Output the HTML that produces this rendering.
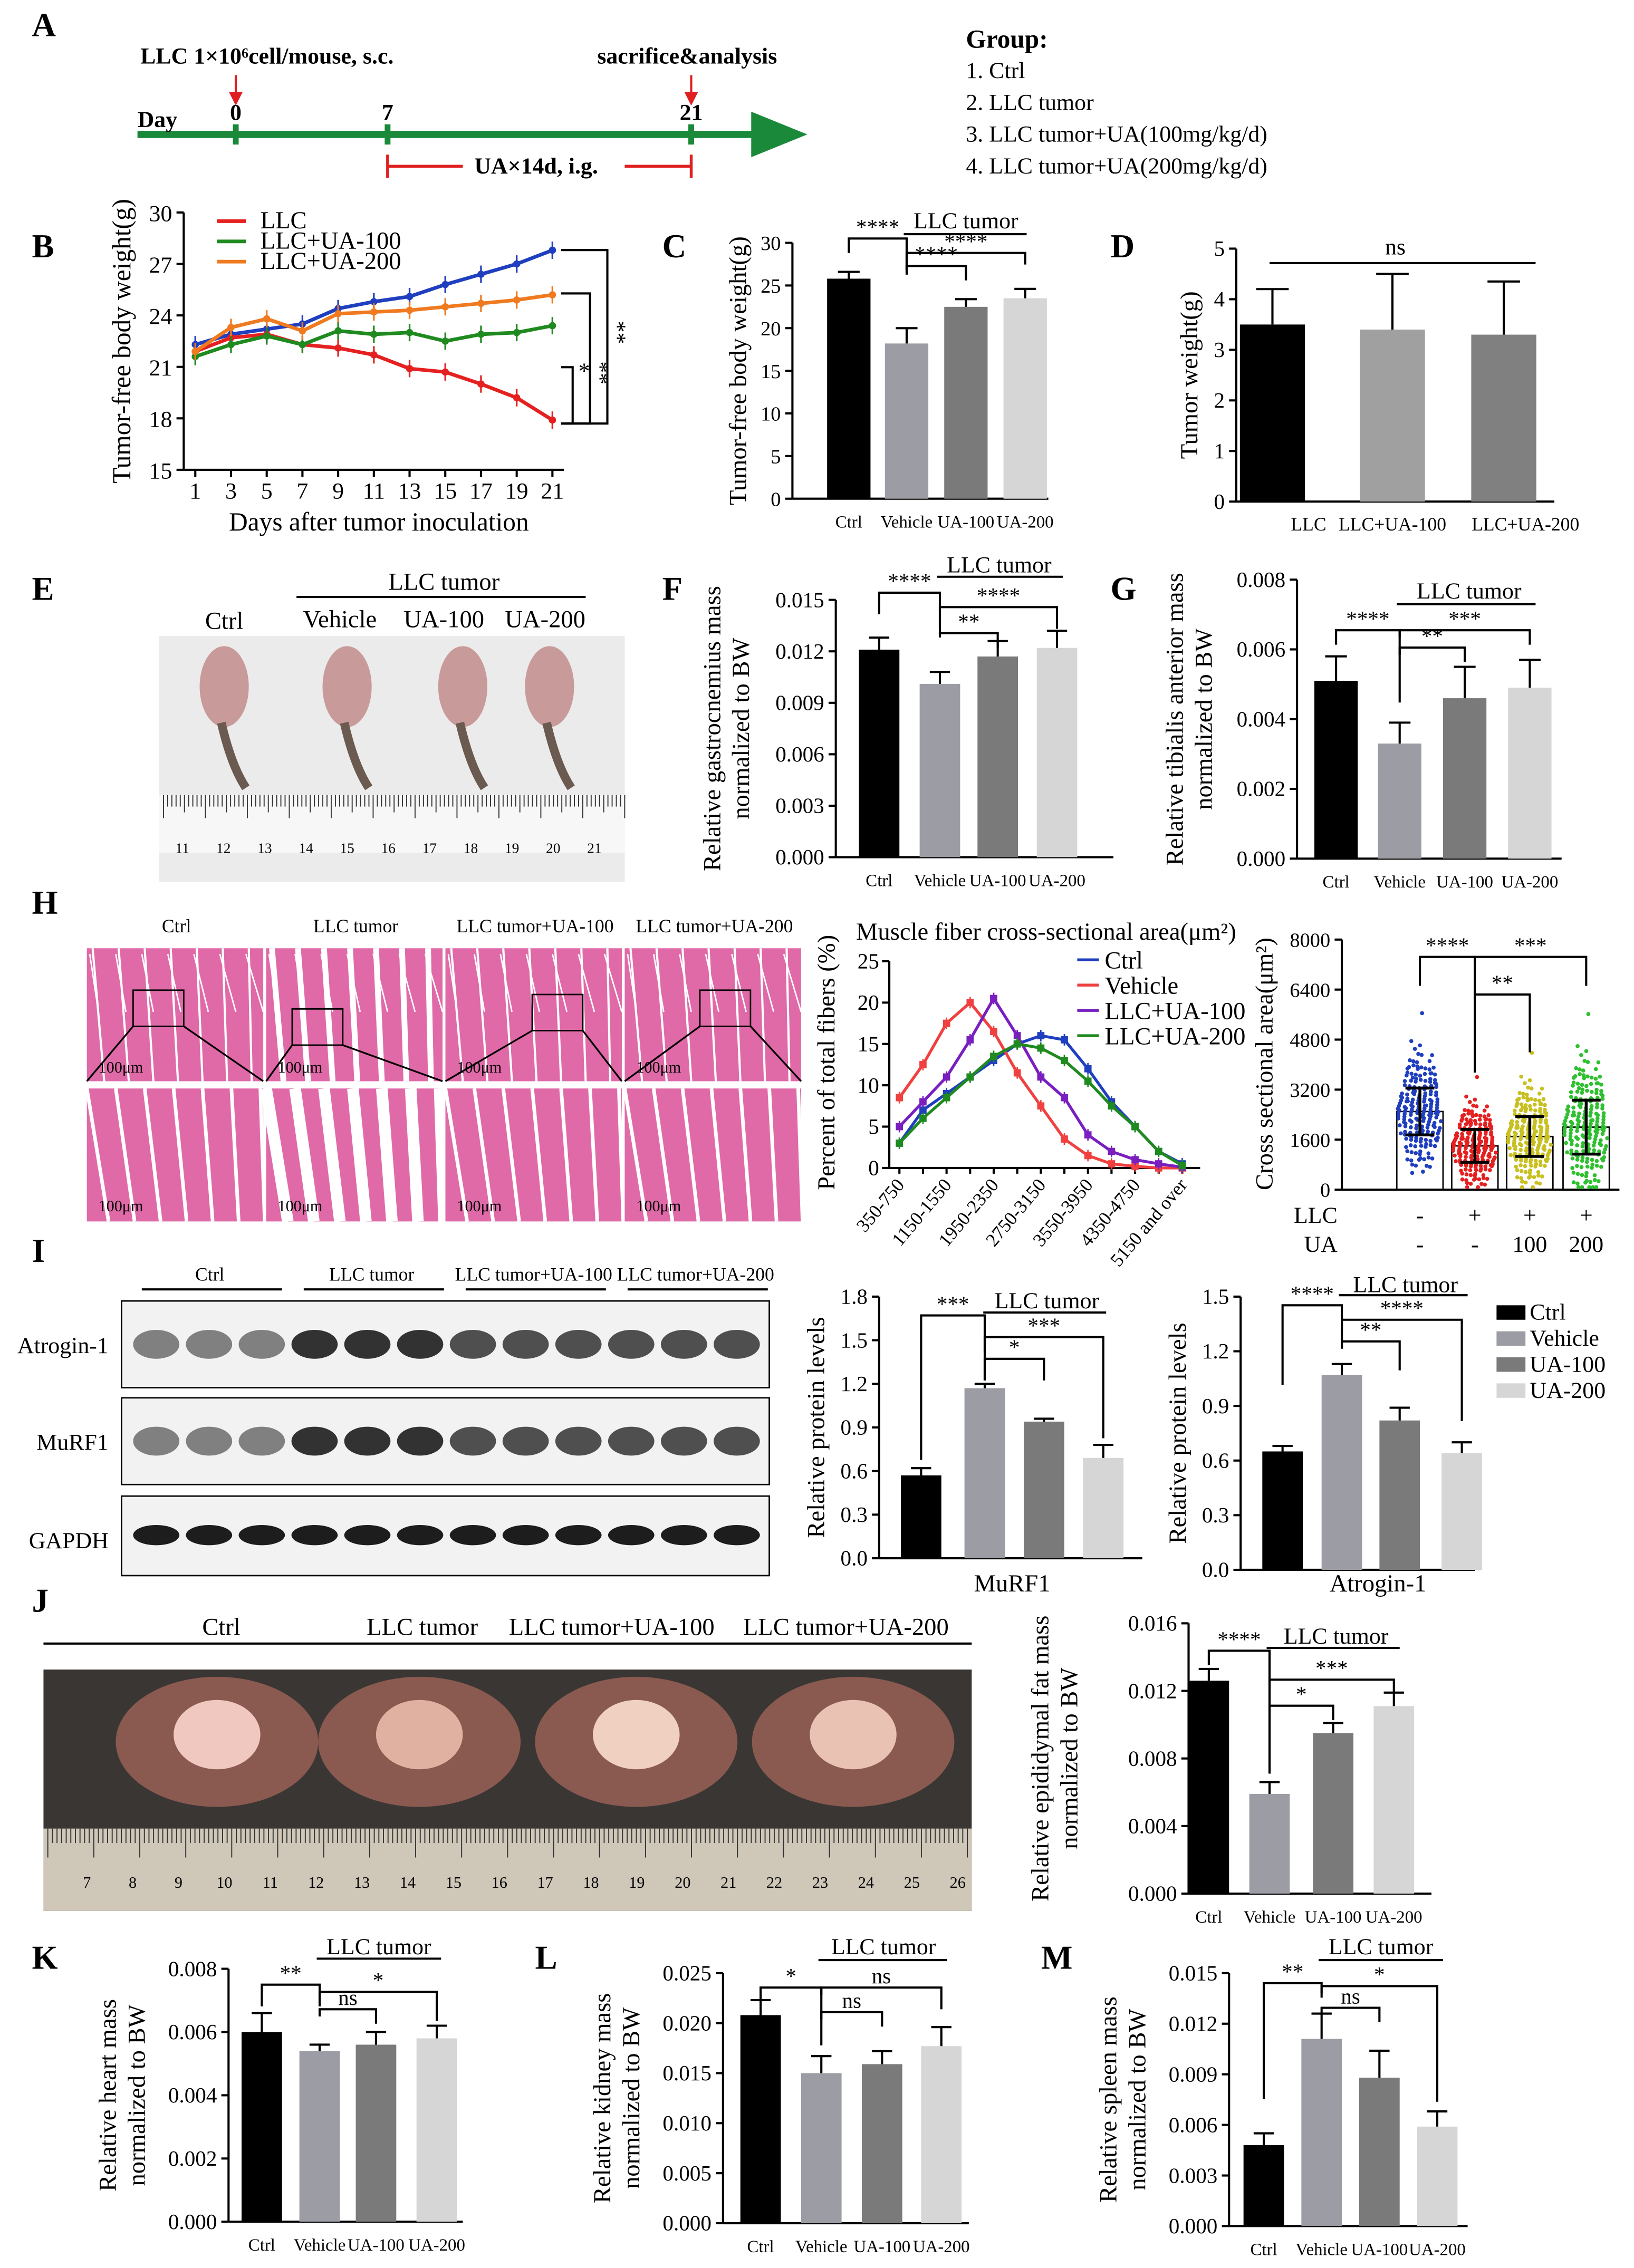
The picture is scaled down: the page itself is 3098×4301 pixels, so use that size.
<!DOCTYPE html>
<html><head><meta charset="utf-8">
<style>
html,body{margin:0;padding:0;background:#fff}
svg{display:block;font-family:"Liberation Serif",serif}
</style></head>
<body>
<svg id="fig" xmlns="http://www.w3.org/2000/svg" width="3098" height="4301" viewBox="0 0 1130 1569">
<rect x="0" y="0" width="1130" height="1569" fill="#fff"/>
</svg>
<script>
// ---------- DATA ----------
const bDays=[1,3,5,7,9,11,13,15,17,19,21];
const bCtrl=[22.3,22.9,23.2,23.5,24.4,24.8,25.1,25.8,26.4,27.0,27.8];
const bLLC=[21.9,22.7,22.9,22.3,22.1,21.7,20.9,20.7,20.0,19.2,17.9];
const bUA100=[21.6,22.3,22.8,22.3,23.1,22.9,23.0,22.5,22.9,23.0,23.4];
const bUA200=[21.9,23.3,23.8,23.1,24.1,24.2,24.3,24.5,24.7,24.9,25.2];
const bTicks=[15,18,21,24,27,30];
const grp4=["Ctrl","Vehicle","UA-100","UA-200"];
const cVals=[25.8,18.2,22.5,23.5], cErr=[0.8,1.8,0.9,1.1];
const dCats=["LLC","LLC+UA-100","LLC+UA-200"], dVals=[3.5,3.4,3.3], dErr=[0.7,1.1,1.05];
const fVals=[0.0121,0.0101,0.0117,0.0122], fErr=[0.0007,0.0007,0.0009,0.0010];
const gVals=[0.0051,0.0033,0.0046,0.0049], gErr=[0.0007,0.0006,0.0009,0.0008];
const hCats=["350-750","750-1150","1150-1550","1550-1950","1950-2350","2350-2750","2750-3150","3150-3550","3550-3950","3950-4350","4350-4750","4750-5150","5150 and over"];
const hCtrl=[3,7,9,11,13,15,16,15.5,12,8,5,2,0.5];
const hVeh=[8.5,12.5,17.5,20,16.5,11.5,7.5,3.5,1.5,0.5,0.2,0,0];
const hUA100=[5,8,11,15.5,20.5,16,11,8.5,4,2,1,0.5,0.1];
const hUA200=[3,6,8.5,11,13.5,15,14.5,13,10.5,7.5,5,2,0.3];
const csaMean=[2500,1400,1700,2000], csaSD=[1000,700,850,1150];
const murf=[0.57,1.17,0.94,0.69], murfErr=[0.05,0.03,0.02,0.09];
const atro=[0.65,1.07,0.82,0.64], atroErr=[0.03,0.06,0.07,0.06];
const jVals=[0.0126,0.0059,0.0095,0.0111], jErr=[0.0007,0.0007,0.0006,0.0008];
const kVals=[0.0060,0.0054,0.0056,0.0058], kErr=[0.0006,0.0002,0.0004,0.0004];
const lVals=[0.0208,0.0150,0.0159,0.0177], lErr=[0.0015,0.0017,0.0013,0.0019];
const mVals=[0.0048,0.0111,0.0088,0.0059], mErr=[0.0007,0.0015,0.0016,0.0009];

// ---------- HELPERS ----------
const S=document.getElementById('fig'), NS='http://www.w3.org/2000/svg';
function mk(tag,attrs,name){const el=document.createElementNS(NS,tag);for(const k in attrs)el.setAttribute(k,attrs[k]);


S.appendChild(el);return el;}
function T(x,y,s,sz,name,o){o=o||{};const el=mk('text',{x:x,y:y,'font-size':sz,'text-anchor':o.a||'start',fill:o.c||'#000','font-weight':o.b?'bold':'normal',transform:o.r?`rotate(${o.r} ${x} ${y})`:''},name);el.textContent=s;return el;}
function L(x1,y1,x2,y2,name,c,w){return mk('line',{x1,y1,x2,y2,stroke:c||'#000','stroke-width':w||1.5},name);}
function R(x,y,w,h,f,name){return mk('rect',{x,y,width:w,height:h,fill:f},name);}
function P(d,name,c,w,f){return mk('path',{d,stroke:c||'#000','stroke-width':w||1.5,fill:f||'none'},name);}
const COL=['#000','#9c9ca4','#7a7a7a','#d6d6d6'];
function yAxis(x,top,bot,max,ticks,fmt,sz,name){const ys=v=>bot-(v/max)*(bot-top);L(x,top,x,bot,name+'-y-axis');
ticks.forEach(t=>{const y=ys(t);L(x-5,y,x,y,name+'-y-tick');T(x-8,y+5,fmt(t),sz,name+'-y-tick-label',{a:'end'});});return ys;}
function bars(cfg,vals,errs){const ys=yAxis(cfg.x,cfg.top,cfg.bot,cfg.max,cfg.ticks,cfg.fmt,cfg.sz||15,cfg.name);
L(cfg.x,cfg.bot,cfg.xe,cfg.bot,cfg.name+'-x-axis');
vals.forEach((v,i)=>{const cx=cfg.cx[i],w=cfg.w,y=ys(v);R(cx-w/2,y,w,cfg.bot-y,cfg.cols[i],cfg.name+'-bar-'+i);
const ye=ys(v+errs[i]);L(cx,y,cx,ye,cfg.name+'-error-bar');L(cx-w/4,ye,cx+w/4,ye,cfg.name+'-error-cap');
if(cfg.labels)T(cfg.lx?cfg.lx[i]:cx,cfg.bot+20,cfg.labels[i],cfg.lsz||12,cfg.name+'-x-label',{a:'middle'});});
if(cfg.title){cfg.title.forEach((t,j)=>T(cfg.tx+j*20,(cfg.top+cfg.bot)/2,t,cfg.tsz||17,cfg.name+'-y-title',{a:'middle',r:-90}));}
return ys;}
function brk(x1,x2,y,drop1,drop2,lab,name){P(`M${x1},${y+drop1}V${y}H${x2}V${y+drop2}`,name+'-sig-bracket');T((x1+x2)/2,y-3,lab,15,name+'-sig-label',{a:'middle'});}
const f0=t=>String(t), f3=t=>t.toFixed(3), f1=t=>t.toFixed(1);

// ---------- PANEL LETTERS ----------
[['A',22,25],['B',22,178],['C',458,178],['D',768,178],['E',22,415],['F',458,415],['G',768,415],['H',22,632],['I',22,873],['J',22,1115],['K',22,1362],['L',370,1362],['M',720,1362]].forEach(p=>T(p[1],p[2],p[0],23,'panel-letter-'+p[0],{b:1}));

// ---------- A timeline ----------
L(95,93,525,93,'timeline-line','#1a8a3a',5);
P('M520,78 L557,93 L520,108 Z','timeline-arrowhead','#1a8a3a',1,'#1a8a3a');
[163,268,478].forEach(x=>L(x,86,x,100,'timeline-tick','#1a8a3a',4));
T(97,44,'LLC 1×10⁶cell/mouse, s.c.',16,'inoculation-label',{b:1});
T(95,88,'Day',16,'day-label',{b:1});
T(163,83,'0',16,'day-0',{b:1,a:'middle'});T(268,83,'7',16,'day-7',{b:1,a:'middle'});T(478,83,'21',16,'day-21',{b:1,a:'middle'});
T(413,44,'sacrifice&analysis',16,'sacrifice-label',{b:1});
[163,478].forEach(x=>{L(x,52,x,66,'red-arrow','#e02020',1.5);P(`M${x-4},64 L${x},72 L${x+4},64Z`,'red-arrowhead','#e02020',1,'#e02020');});
L(268,115,320,115,'treatment-bracket','#e02020',2);L(432,115,478,115,'treatment-bracket','#e02020',2);
L(268,107,268,123,'treatment-bracket','#e02020',2);L(478,107,478,123,'treatment-bracket','#e02020',2);
T(328,120,'UA×14d, i.g.',16,'treatment-label',{b:1});
T(668,33,'Group:',18,'group-title',{b:1});
['1. Ctrl','2. LLC tumor','3. LLC tumor+UA(100mg/kg/d)','4. LLC tumor+UA(200mg/kg/d)'].forEach((s,i)=>T(668,54+i*22,s,16,'group-item'));

// ---------- B line chart ----------
(function(){const x0=127,top=147,bot=325,bx=d=>135+(d-1)/20*(382-135),by=v=>bot-(v-15)/15*(bot-top);
L(x0,top,x0,bot,'b-y-axis');L(x0,bot,390,bot,'b-x-axis');
bTicks.forEach(t=>{L(x0-5,by(t),x0,by(t),'b-y-tick');T(x0-8,by(t)+6,String(t),16,'b-y-tick-label',{a:'end'});});
bDays.forEach(d=>{L(bx(d),bot,bx(d),bot+5,'b-x-tick');T(bx(d),bot+20,String(d),16,'b-x-tick-label',{a:'middle'});});
T(90,236,'Tumor-free body weight(g)',18,'b-y-title',{a:'middle',r:-90});
T(262,367,'Days after tumor inoculation',18,'b-x-title',{a:'middle'});
[[bCtrl,'#1f3fbf','ctrl'],[bLLC,'#e52020','llc'],[bUA100,'#1f8a1f','llc-ua100'],[bUA200,'#f07a20','llc-ua200']].forEach(s=>{
P('M'+s[0].map((v,i)=>bx(bDays[i])+','+by(v)).join('L'),'b-line-'+s[2],s[1],2.5);
s[0].forEach((v,i)=>{mk('circle',{cx:bx(bDays[i]),cy:by(v),r:2.5,fill:s[1]},'b-point-'+s[2]);L(bx(bDays[i]),by(v)-6,bx(bDays[i]),by(v)+6,'b-error',s[1],1.2);});});
[['LLC','#e52020'],['LLC+UA-100','#1f8a1f'],['LLC+UA-200','#f07a20']].forEach((l,i)=>{L(150,153+i*14,170,153+i*14,'b-legend-line',l[1],2.5);T(180,158+i*14,l[0],17,'b-legend-label');});
P('M388,254H396V293H388','b-sig-1');T(400,262,'*',16,'b-sig');P('M388,203H408V293H388','b-sig-2');T(410,250,'**',16,'b-sig',{r:90});P('M388,173H420V293H388','b-sig-3');T(422,222,'**',16,'b-sig',{r:90});
})();

// ---------- C ----------
bars({x:548,xe:725,top:168,bot:345,max:30,ticks:[0,5,10,15,20,25,30],fmt:f0,sz:14,name:'c',cx:[587,627,668,709],w:30,cols:COL,labels:grp4,title:['Tumor-free body weight(g)'],tx:516},cVals,cErr);
brk(587,627,165,10,25,'****','c');brk(627,668,184,3,10,'****','c');brk(627,709,175,12,8,'****','c');L(625,162,710,162,'c-group-line');T(668,158,'LLC tumor',16,'c-group-label',{a:'middle'});
// ---------- D ----------
bars({x:855,xe:1075,top:172,bot:347,max:5,ticks:[0,1,2,3,4,5],fmt:f0,sz:15,name:'d',cx:[880,963,1040],w:45,cols:['#000','#a0a0a0','#808080'],labels:dCats,lx:[905,963,1055],lsz:13,title:['Tumor weight(g)'],tx:828},dVals,dErr);
L(878,182,1062,182,'d-ns-line');T(965,176,'ns',16,'d-ns-label',{a:'middle'});

// ---------- E photo ----------
R(110,440,322,170,'#ebebeb','e-photo');R(110,550,322,40,'#f7f7f7','e-ruler');
for(let i=0;i<=110;i++){L(113+i*2.9,550,113+i*2.9,i%10==0?566:(i%5==0?562:558),'e-ruler-tick','#333',0.7);}
[11,12,13,14,15,16,17,18,19,20,21].forEach((n,i)=>T(126+i*28.5,590,String(n),10,'e-ruler-number',{a:'middle'}));
[155,240,320,380].forEach((x,i)=>{mk('ellipse',{cx:x,cy:475,rx:17,ry:28,fill:'#c99a9a'},'e-muscle');P(`M${x-2},500 Q${x+5},530 ${x+15},545`,'e-bone','#6a5a50',6);});
T(155,435,'Ctrl',17,'e-label',{a:'middle'});T(307,408,'LLC tumor',17,'e-label',{a:'middle'});L(205,413,405,413,'e-group-line');
T(235,434,'Vehicle',17,'e-label',{a:'middle'});T(307,434,'UA-100',17,'e-label',{a:'middle'});T(377,434,'UA-200',17,'e-label',{a:'middle'});

// ---------- F ----------
bars({x:578,xe:770,top:415,bot:593,max:0.015,ticks:[0,0.003,0.006,0.009,0.012,0.015],fmt:f3,sz:15,name:'f',cx:[608,650,690,731],w:28,cols:COL,labels:grp4,title:['Relative gastrocnemius mass','normalized to BW'],tx:498},fVals,fErr);
brk(608,650,410,15,30,'****','f');brk(650,690,438,3,10,'**','f');brk(650,731,420,15,15,'****','f');L(648,399,735,399,'f-group-line');T(691,396,'LLC tumor',16,'f-group-label',{a:'middle'});
// ---------- G ----------
bars({x:897,xe:1080,top:401,bot:594,max:0.008,ticks:[0,0.002,0.004,0.006,0.008],fmt:f3,sz:15,name:'g',cx:[924,968,1013,1058],w:30,cols:COL,labels:grp4,title:['Relative tibialis anterior mass','normalized to BW'],tx:818},gVals,gErr);
brk(924,968,436,10,50,'****','g');brk(968,1013,448,5,10,'**','g');brk(968,1058,436,5,10,'***','g');L(966,418,1062,418,'g-group-line');T(1016,414,'LLC tumor',16,'g-group-label',{a:'middle'});

// ---------- H histology ----------
['Ctrl','LLC tumor','LLC tumor+UA-100','LLC tumor+UA-200'].forEach((s,i)=>{const x=60+i*124;T(x+62,645,s,13,'h-col-label',{a:'middle'});
R(x,656,122,92,'#e06aa8','h-histo-top');R(x,753,122,92,'#e06aa8','h-histo-zoom');
for(let k=0;k<7;k++){L(x+k*18+4,656,x+k*17+12,748,'h-fiber-line','#fff',i==1?4:1.5);L(x+k*18+2,660,x+k*19+8,700,'h-fiber-line','#fff',1);L(x+k*20,753,x+k*18+15,845,'h-fiber-line','#fff',i==1?8:2.5);}
const bx=x+[32,18,60,52][i],by=[685,698,688,685][i];
R(bx,by,35,25,'none','h-zoom-box').setAttribute('stroke','#000');
L(bx,by+25,x,748,'h-zoom-connector','#000',1.2);L(bx+35,by+25,x+122,748,'h-zoom-connector','#000',1.2);
T(x+8,742,'100μm',11,'h-scale');T(x+8,838,'100μm',11,'h-scale');});
(function(){const x0=615,top=665,bot=808,hx=i=>622+i*16.3,hy=v=>bot-v/25*(bot-top);
L(x0,top,x0,bot,'h-y-axis');L(x0,bot,830,bot,'h-x-axis');
[0,5,10,15,20,25].forEach(t=>{L(x0-5,hy(t),x0,hy(t),'h-y-tick');T(x0-7,hy(t)+5,String(t),15,'h-y-tick-label',{a:'end'});});
hCats.forEach((c,i)=>{L(hx(i),bot,hx(i),bot+4,'h-x-tick');if(i%2==0)T(hx(i)+4,bot+12,c,13,'h-x-tick-label',{a:'end',r:-50});});
T(577,735,'Percent of total fibers (%)',17,'h-y-title',{a:'middle',r:-90});T(592,650,'Muscle fiber cross-sectional area(μm²)',17,'h-title');
[[hCtrl,'#1f3fbf','ctrl','Ctrl'],[hVeh,'#f04040','vehicle','Vehicle'],[hUA100,'#7a1fbf','llc-ua100','LLC+UA-100'],[hUA200,'#1f8a1f','llc-ua200','LLC+UA-200']].forEach((s,j)=>{
P('M'+s[0].map((v,i)=>hx(i)+','+hy(v)).join('L'),'h-line-'+s[2],s[1],2);
s[0].forEach((v,i)=>{R(hx(i)-2.5,hy(v)-2.5,5,5,s[1],'h-point-'+s[2]);L(hx(i),hy(v)-4,hx(i),hy(v)+4,'h-error',s[1],1);});
L(745,664+j*17.5,760,664+j*17.5,'h-legend-line',s[1],2);T(764,670+j*17.5,s[3],17,'h-legend-label');});
})();
(function(){const cx=[982,1020,1058,1097],pc=['#1f3fbf','#e52020','#c8c020','#2fc02f'];
const ys=yAxis(928,650,823,8000,[0,1600,3200,4800,6400,8000],f0,14,'csa');L(928,823,1120,823,'csa-x-axis');
T(880,736,'Cross sectional area(μm²)',17,'csa-y-title',{a:'middle',r:-90});
csaMean.forEach((m,i)=>{const y=ys(m);R(cx[i]-16,y,32,823-y,'none','csa-bar-'+i).setAttribute('stroke','#000');
for(let k=0;k<200;k++){const u=((k*0.618034)%1)*2-1,v=((k*0.7548777)%1),w=((k*0.5698403)%1);const z=(v+w-1)*2.2+((k%23==0)?1.5:0);const val=m+csaSD[i]*z;
mk('circle',{cx:cx[i]+u*16*(1-Math.abs(z)/4),cy:ys(Math.max(80,val)),r:1.4,fill:pc[i]},'csa-point');}
L(cx[i],ys(m-csaSD[i]*0.75),cx[i],ys(m+csaSD[i]*0.75),'csa-error','#000',2);L(cx[i]-10,ys(m+csaSD[i]*0.75),cx[i]+10,ys(m+csaSD[i]*0.75),'csa-error-cap','#000',2);L(cx[i]-10,ys(m-csaSD[i]*0.75),cx[i]+10,ys(m-csaSD[i]*0.75),'csa-error-cap','#000',2);
T(cx[i],846,['-','+','+','+'][i],16,'csa-llc-sign',{a:'middle'});T(cx[i],866,['-','-','100','200'][i],16,'csa-ua-dose',{a:'middle'});});
T(925,846,'LLC',16,'csa-llc-label',{a:'end'});T(925,866,'UA',16,'csa-ua-label',{a:'end'});
brk(982,1020,662,20,80,'****','csa');brk(1020,1058,688,5,40,'**','csa');brk(1020,1097,662,5,20,'***','csa');})();

// ---------- I blots ----------
[['Atrogin-1',900],['MuRF1',967],['GAPDH',1035]].forEach((b,j)=>{R(84,b[1],448,j==2?55:60,'#f2f2f2','i-blot-frame').setAttribute('stroke','#000');
T(75,b[1]+36,b[0],16,'i-blot-label',{a:'end'});
for(let k=0;k<12;k++){const dark=(j<2&&k>=3&&k<6)?'#111':(j==2?'#111':'#333');mk('ellipse',{cx:108+k*36.5,cy:b[1]+(j==2?27:30),rx:16,ry:j==2?7:10,fill:dark,opacity:j==2?0.95:(k<3?0.6:0.85)},'i-band');}});
['Ctrl','LLC tumor','LLC tumor+UA-100','LLC tumor+UA-200'].forEach((s,i)=>{T(145+i*112,886,s,13,'i-group-label',{a:'middle'});L(98+i*112,892,195+i*112,892,'i-group-line');});
bars({x:608,xe:790,top:897,bot:1078,max:1.8,ticks:[0,0.3,0.6,0.9,1.2,1.5,1.8],fmt:f1,sz:15,name:'murf1',cx:[637,681,722,763],w:28,cols:COL,title:['Relative protein levels'],tx:570},murf,murfErr);
T(700,1101,'MuRF1',17,'murf1-x-title',{a:'middle'});
brk(637,681,910,100,25,'***','murf1');brk(681,722,940,15,15,'*','murf1');brk(681,763,925,30,70,'***','murf1');L(680,908,765,908,'murf1-group-line');T(724,905,'LLC tumor',16,'murf1-group-label',{a:'middle'});
bars({x:858,xe:1020,top:897,bot:1086,max:1.5,ticks:[0,0.3,0.6,0.9,1.2,1.5],fmt:f1,sz:15,name:'atrogin1',cx:[887,928,968,1011],w:28,cols:COL,title:['Relative protein levels'],tx:820},atro,atroErr);
T(953,1101,'Atrogin-1',17,'atrogin1-x-title',{a:'middle'});
brk(887,928,903,55,30,'****','atrogin1');brk(928,968,928,5,20,'**','atrogin1');brk(928,1011,913,10,70,'****','atrogin1');L(926,896,1015,896,'atrogin1-group-line');T(972,894,'LLC tumor',16,'atrogin1-group-label',{a:'middle'});
grp4.forEach((s,i)=>{R(1035,903+i*18,20,10,COL[i],'i-legend-swatch');T(1058,913+i*18,s,16,'i-legend-label');});

// ---------- J photo ----------
L(30,1137,672,1137,'j-group-line');
[['Ctrl',153],['LLC tumor',292],['LLC tumor+UA-100',423],['LLC tumor+UA-200',585]].forEach(s=>T(s[1],1131,s[0],17,'j-label',{a:'middle'}));
R(30,1155,642,167,'#3a3634','j-photo');R(30,1265,642,57,'#cfc7b8','j-ruler');
for(let i=0;i<=200;i++){L(33+i*3.18,1265,33+i*3.18,i%10==0?1285:1275,'j-ruler-tick','#333',0.7);}
for(let n=7;n<=26;n++)T(60+(n-7)*31.7,1306,String(n),11,'j-ruler-number',{a:'middle'});
[[150,'#f0c8c0'],[290,'#e0b0a0'],[440,'#f0d0c0'],[590,'#eac2b4']].forEach(c=>{mk('ellipse',{cx:c[0],cy:1205,rx:70,ry:45,fill:'#8a5a50'},'j-mouse-abdomen');mk('ellipse',{cx:c[0],cy:1200,rx:30,ry:24,fill:c[1]},'j-fat-pad');});
bars({x:822,xe:990,top:1123,bot:1310,max:0.016,ticks:[0,0.004,0.008,0.012,0.016],fmt:f3,sz:15,name:'j',cx:[836,878,922,964],w:28,cols:COL,labels:grp4,title:['Relative epididymal fat mass','normalized to BW'],tx:725},jVals,jErr);
brk(836,878,1142,10,85,'****','j');brk(878,922,1180,5,10,'*','j');brk(878,964,1162,5,10,'***','j');L(876,1140,968,1140,'j-group-line');T(924,1137,'LLC tumor',16,'j-group-label',{a:'middle'});

// ---------- K L M ----------
bars({x:158,xe:320,top:1362,bot:1537,max:0.008,ticks:[0,0.002,0.004,0.006,0.008],fmt:f3,sz:15,name:'k',cx:[181,221,260,302],w:28,cols:COL,labels:grp4,title:['Relative heart mass','normalized to BW'],tx:80},kVals,kErr);
brk(181,221,1373,15,15,'**','k');brk(221,260,1390,5,10,'ns','k');brk(221,302,1378,5,20,'*','k');L(219,1355,305,1355,'k-group-line');T(262,1352,'LLC tumor',16,'k-group-label',{a:'middle'});
bars({x:500,xe:670,top:1365,bot:1538,max:0.025,ticks:[0,0.005,0.010,0.015,0.020,0.025],fmt:f3,sz:15,name:'l',cx:[526,568,610,651],w:28,cols:COL,labels:grp4,title:['Relative kidney mass','normalized to BW'],tx:422},lVals,lErr);
brk(526,568,1375,10,40,'*','l');brk(568,610,1392,5,10,'ns','l');brk(568,651,1375,5,15,'ns','l');L(566,1356,655,1356,'l-group-line');T(611,1352,'LLC tumor',16,'l-group-label',{a:'middle'});
bars({x:850,xe:1015,top:1365,bot:1540,max:0.015,ticks:[0,0.003,0.006,0.009,0.012,0.015],fmt:f3,sz:15,name:'m',cx:[874,914,954,994],w:28,cols:COL,labels:grp4,title:['Relative spleen mass','normalized to BW'],tx:772},mVals,mErr);
brk(874,914,1372,80,10,'**','m');brk(914,954,1389,5,10,'ns','m');brk(914,994,1374,5,80,'*','m');L(912,1356,998,1356,'m-group-line');T(955,1352,'LLC tumor',16,'m-group-label',{a:'middle'});
</script>
</body></html>
